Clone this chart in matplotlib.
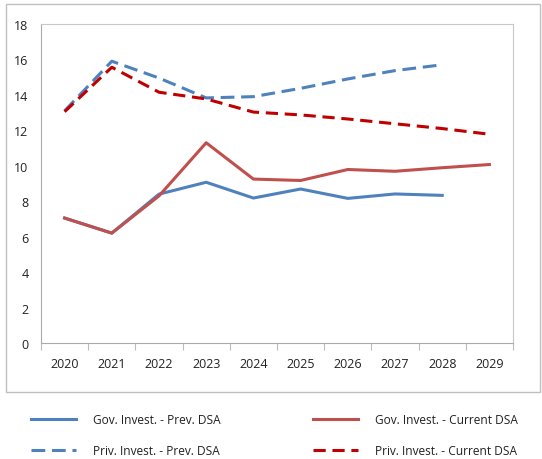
import matplotlib
matplotlib.use("Agg")
import matplotlib.pyplot as plt
from matplotlib.patches import Rectangle
import numpy as np

years = ["2020", "2021", "2022", "2023", "2024", "2025", "2026", "2027", "2028", "2029"]
gov_prev = [7.05, 6.2, 8.4, 9.07, 8.18, 8.69, 8.16, 8.41, 8.33]
gov_curr = [7.05, 6.2, 8.3, 11.3, 9.25, 9.17, 9.79, 9.69, 9.89, 10.07]
priv_prev = [13.1, 15.9, 14.95, 13.83, 13.9, 14.37, 14.9, 15.37, 15.7]
priv_curr = [13.05, 15.56, 14.15, 13.77, 13.03, 12.87, 12.64, 12.37, 12.1, 11.78]
labels = ["Gov. Invest. - Prev. DSA", "Gov. Invest. - Current DSA",
          "Priv. Invest. - Prev. DSA", "Priv. Invest. - Current DSA"]

plt.rcParams['font.family'] = ['Open Sans', 'DejaVu Sans']

fig = plt.figure(figsize=(5.42, 4.6), dpi=100)
ax = fig.add_axes([41/542, 1-344/460, (513-41)/542, (344-25)/460])

x_all = np.arange(len(years))
BLUE = "#4F81BD"
RED = "#C0504D"
DRED = "#C00000"
lw = 2.2

l1, = ax.plot(x_all[:len(gov_prev)], gov_prev, color=BLUE, lw=lw)
l2, = ax.plot(x_all[:len(gov_curr)], gov_curr, color=RED, lw=lw)
l3, = ax.plot(x_all[:len(priv_prev)], priv_prev, color=BLUE, lw=lw, dashes=(4.5, 2.2))
l4, = ax.plot(x_all[:len(priv_curr)], priv_curr, color=DRED, lw=lw, dashes=(4, 2.2))

ax.set_xlim(-0.5, len(years) - 0.5)
ax.set_ylim(0, 18)
ax.set_yticks(np.arange(0, 19, 2))
ax.set_xticks(x_all)
ax.set_xticklabels(years)
ax.set_xticks(np.arange(-0.5, len(years), 1), minor=True)
ax.tick_params(axis='x', which='major', length=0, pad=10, labelsize=9, colors='#222222')
ax.tick_params(axis='x', which='minor', length=5, width=0.8, color='#BBBBBB', direction='out')
ax.tick_params(axis='y', length=0, pad=9, labelsize=9, colors='#222222')
for s in ax.spines.values():
    s.set_color('#C8C8C8')
    s.set_linewidth(0.8)
ax.spines['bottom'].set_color('#AAAAAA')
ax.spines['left'].set_color('#AAAAAA')

# outer frame
fig.patches.append(Rectangle((6/542, 1-393/460), (540-6)/542, (393-5)/460,
                             transform=fig.transFigure, fill=False,
                             edgecolor='#C0C0C0', linewidth=1.0))

leg = fig.legend([l1, l3, l2, l4], [labels[0], labels[2], labels[1], labels[3]],
                 ncol=2, loc='upper left',
                 bbox_to_anchor=(25/542, 1-408/460), frameon=False, borderpad=0,
                 fontsize=8.6, handlelength=3.8, handletextpad=1.4,
                 columnspacing=7.7, labelspacing=1.55)
for t in leg.get_texts():
    t.set_color('#222222')

fig.savefig("out.png", dpi=100)
